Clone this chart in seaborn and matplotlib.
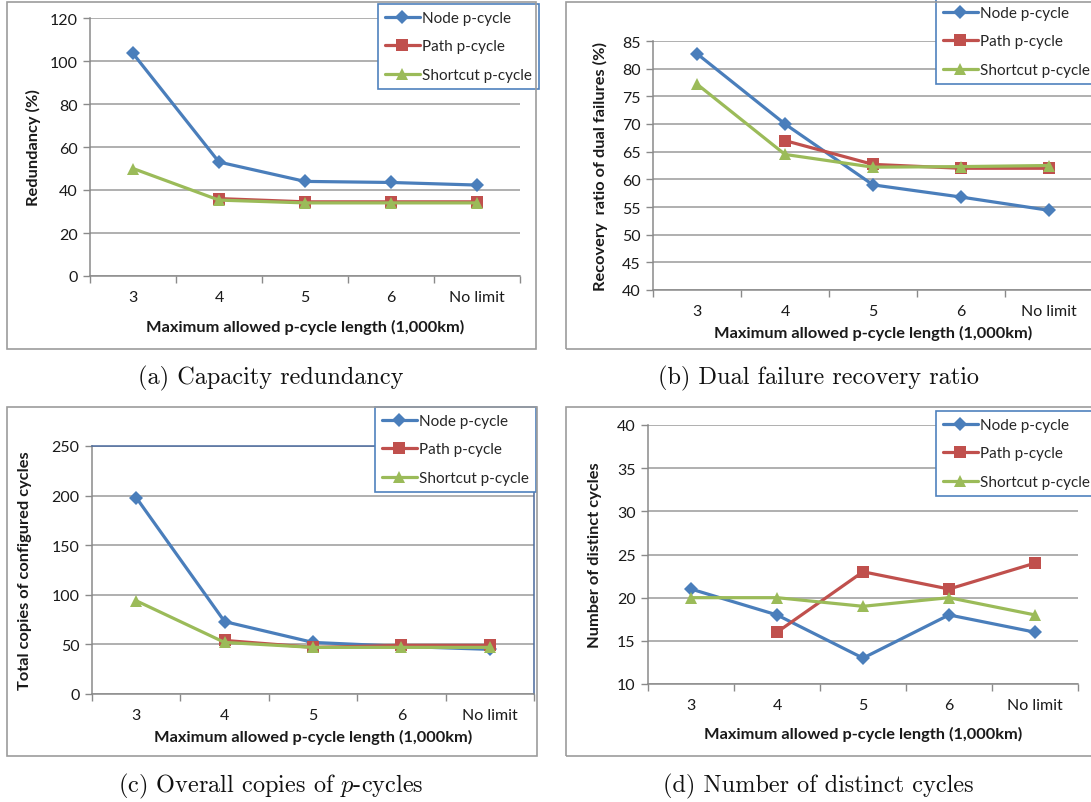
import numpy as np
import pandas as pd
import matplotlib
matplotlib.use("Agg")
import matplotlib.pyplot as plt
from matplotlib.lines import Line2D
from matplotlib.patches import Rectangle
import seaborn as sns

# ---- data -------------------------------------------------------------
categories = ["3", "4", "5", "6", "No limit"]
series_names = ["Node p-cycle", "Path p-cycle", "Shortcut p-cycle"]

redundancy_node = [103.5, 53.0, 44.0, 43.5, 42.3]
redundancy_path = [np.nan, 36.0, 34.5, 34.5, 34.5]
redundancy_shortcut = [50.0, 35.3, 34.0, 34.0, 34.0]

recovery_node = [82.7, 70.0, 59.0, 56.8, 54.4]
recovery_path = [np.nan, 67.0, 62.7, 62.0, 62.0]
recovery_shortcut = [77.2, 64.5, 62.2, 62.3, 62.5]

copies_node = [198.0, 73.0, 52.0, 48.0, 45.0]
copies_path = [np.nan, 54.0, 47.0, 49.0, 49.0]
copies_shortcut = [94.0, 52.0, 47.0, 47.0, 47.0]

distinct_node = [21, 18, 13, 18, 16]
distinct_path = [np.nan, 16, 23, 21, 24]
distinct_shortcut = [20, 20, 19, 20, 18]

xlabel = "Maximum allowed p-cycle length (1,000km)"
ylabels = ["Redundancy (%)", "Recovery  ratio of dual failures (%)",
           "Total copies of configured cycles", "Number of distinct cycles"]
captions = ["(a) Capacity redundancy", "(b) Dual failure recovery ratio",
            "(c) Overall copies of $p$-cycles", "(d) Number of distinct cycles"]

# ---- style ------------------------------------------------------------
sns.set_style("white")
plt.rcParams["font.family"] = ["Lato", "DejaVu Sans"]
plt.rcParams["mathtext.fontset"] = "cm"

W, H = 1091, 803
fig = plt.figure(figsize=(W / 100, H / 100), dpi=100)

colors = ["#4A7EBB", "#C0504D", "#9BBB59"]
markers = ["D", "s", "^"]
msizes = [7, 8.5, 9]
grid_c = "#9A9A9A"
axis_c = "#8A8A8A"


def frac_rect(l, t, r, b):
    return [l / W, 1 - b / H, (r - l) / W, (b - t) / H]


panels = [
    dict(box=(90, 19, 520, 277), data=[redundancy_node, redundancy_path, redundancy_shortcut],
         ylim=(0, 120), ystep=20, border=(7, 3, 536, 350), legend=(378, 5),
         xlab_y=327, ylab_x=33, caption=(271, 378), blue_frame=False),
    dict(box=(653, 42, 1093, 291), data=[recovery_node, recovery_path, recovery_shortcut],
         ylim=(40, 85), ystep=5, border=(566, 3, 1100, 350), legend=(936, 0),
         xlab_y=333, ylab_x=600, caption=(818, 378), blue_frame=False),
    dict(box=(92, 447, 534, 695), data=[copies_node, copies_path, copies_shortcut],
         ylim=(0, 250), ystep=50, border=(7, 408, 537, 757), legend=(375, 408),
         xlab_y=737, ylab_x=25, caption=(271, 786), blue_frame=True),
    dict(box=(648, 426, 1078, 685), data=[distinct_node, distinct_path, distinct_shortcut],
         ylim=(10, 40), ystep=5, border=(566, 408, 1100, 757), legend=(936, 412),
         xlab_y=734, ylab_x=595, caption=(818, 786), blue_frame=False),
]

pos = np.arange(len(categories))

for i, p in enumerate(panels):
    # outer frame of each chart
    bl, bt, br, bb = p["border"]
    fig.patches.append(Rectangle((bl / W, 1 - bb / H), (br - bl) / W, (bb - bt) / H,
                                 transform=fig.transFigure, fill=False,
                                 edgecolor="#9C9C9C", lw=1.2, zorder=0))

    l, t, r, b = p["box"]
    ax = fig.add_axes(frac_rect(l, t, r, b))
    ax.set_facecolor("none")

    for name, vals, c, m, ms in zip(series_names, p["data"], colors, markers, msizes):
        df = pd.DataFrame({"pos": pos, "value": vals})
        sns.lineplot(data=df, x="pos", y="value", ax=ax, color=c, lw=2.3,
                     marker=m, markersize=ms, markeredgewidth=0, legend=False,
                     zorder=3)

    lo, hi = p["ylim"]
    ax.set_ylim(lo, hi)
    ax.set_yticks(np.arange(lo, hi + 0.1, p["ystep"]))
    ax.yaxis.grid(True, color=grid_c, lw=1.1)
    ax.set_axisbelow(True)

    ax.set_xlim(-0.5, len(categories) - 0.5)
    ax.set_xticks(pos)
    ax.set_xticklabels(categories)
    ax.set_xticks(np.arange(-0.5, len(categories), 1.0), minor=True)
    ax.tick_params(axis="x", which="major", length=0, pad=10,
                   labelsize=11.5, labelcolor="#1A1A1A")
    ax.tick_params(axis="x", which="minor", length=5, width=1, color=axis_c,
                   direction="out", bottom=True)
    ax.tick_params(axis="y", length=5, width=1, color=axis_c, direction="out",
                   left=True, pad=4, labelsize=11.5, labelcolor="#1A1A1A")

    for s in ["left", "bottom"]:
        ax.spines[s].set_color(axis_c)
        ax.spines[s].set_linewidth(1.1)
    if p["blue_frame"]:
        for s in ["top", "right"]:
            ax.spines[s].set_color("#4A6A9E")
            ax.spines[s].set_linewidth(1.1)
    else:
        ax.spines["top"].set_visible(False)
        ax.spines["right"].set_visible(False)

    ax.set_xlabel(xlabel, fontsize=11.8, fontweight="bold", color="#1A1A1A")
    ax.set_ylabel(ylabels[i], fontsize=11.8, fontweight="bold", color="#1A1A1A")
    ax.xaxis.set_label_coords(((l + r) / 2 - l) / (r - l), (b - p["xlab_y"]) / (b - t))
    ax.xaxis.label.set_va("center")
    ax.yaxis.set_label_coords((p["ylab_x"] - l) / (r - l), 0.5)
    ax.yaxis.label.set_va("center")

    handles = [Line2D([], [], color=c, lw=2.3, marker=m, markersize=ms,
                      markeredgewidth=0) for c, m, ms in zip(colors, markers, msizes)]
    lx, ly = p["legend"]
    leg = ax.legend(handles, series_names, loc="upper left",
                    bbox_to_anchor=(lx / W, 1 - ly / H), bbox_transform=fig.transFigure,
                    borderaxespad=0, frameon=True, fancybox=False, fontsize=11,
                    labelspacing=0.95, handlelength=2.3, handletextpad=0.15,
                    borderpad=0.45)
    leg.get_frame().set_edgecolor("#4F81BD")
    leg.get_frame().set_linewidth(1.2)
    leg.get_frame().set_facecolor("white")
    leg.get_frame().set_alpha(1)
    leg.set_zorder(5)

    cx, cy = p["caption"]
    fig.text(cx / W, 1 - cy / H, captions[i], ha="center", va="center",
             fontsize=17.5, family="cmr10", color="#111111")

fig.savefig("out.png", dpi=100)
